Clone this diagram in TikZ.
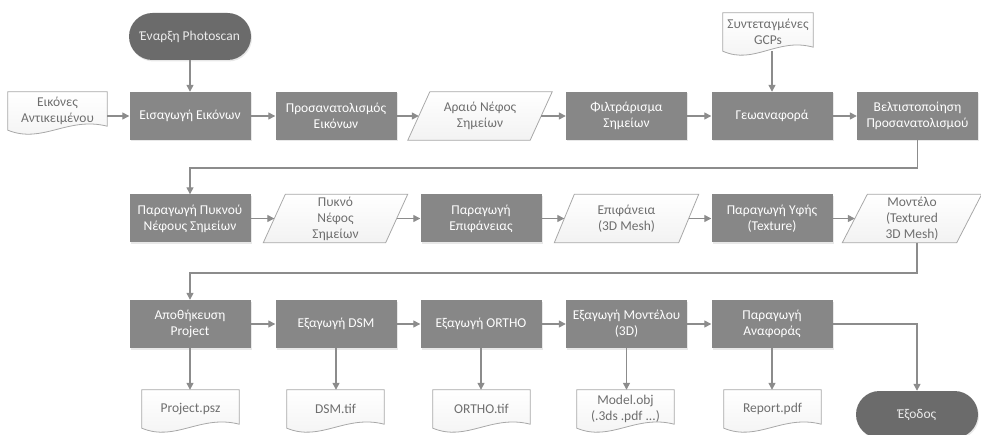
\documentclass[tikz,border=0pt]{standalone}
\usepackage{fontspec}
\setmainfont{Carlito}
\usetikzlibrary{arrows.meta,shadows,backgrounds,calc}
\definecolor{procfill}{HTML}{878787}
\definecolor{termfill}{HTML}{6B6B6B}
\definecolor{linecol}{HTML}{8C8C8C}
\definecolor{docborder}{HTML}{A8A8A8}
\definecolor{doctext}{HTML}{6E6E6E}
\begin{document}
\begin{tikzpicture}[x=1pt,y=-1pt,
  every node/.style={font=\fontsize{13.5}{16}\selectfont},
  procbox/.style={rectangle, fill=procfill, text=white, minimum width=121pt, minimum height=48pt,
    inner sep=0pt, align=center, drop shadow={shadow xshift=1pt,shadow yshift=-1.5pt,opacity=0.18}},
  termbox/.style={rectangle, rounded corners=23.5pt, fill=termfill, text=white!92!black, minimum width=122pt,
    minimum height=47pt, inner sep=0pt, align=center, drop shadow={shadow xshift=1pt,shadow yshift=-1.5pt,opacity=0.18}},
  databox/.style={rectangle, minimum width=122pt, minimum height=48pt, inner sep=0pt, align=center, text=doctext},
  docbox/.style={rectangle, minimum height=38pt, inner sep=0pt, align=center, text=doctext},
  conn/.style={draw=linecol, line width=1.3pt, -{Triangle[length=7pt,width=7pt]}},
  shapeline/.style={draw=docborder, line width=0.8pt, top color=white, bottom color=black!5}
]
\useasboundingbox (0,0) rectangle (981,435);
\clip (0,0) rectangle (981,435);

% terminals
\node[termbox] (start) at (190,36.5) {Έναρξη Photoscan};
\node[termbox] (exit) at (917,414.5) {Έξοδος};

% row 1
\node[docbox, minimum width=99pt] (img) at (57.5,111) {Εικόνες\\Αντικειμένου};
\node[procbox] (A1) at (190,116) {Εισαγωγή Εικόνων};
\node[procbox] (A2) at (336,116) {Προσανατολισμός\\Εικόνων};
\node[databox] (D1) at (480,116) {Αραιό Νέφος\\Σημείων};
\node[procbox] (A3) at (626.5,116) {Φιλτράρισμα\\Σημείων};
\node[procbox] (A4) at (772,116) {Γεωαναφορά};
\node[procbox] (A5) at (917.5,116) {Βελτιστοποίηση\\Προσανατολισμού};
\node[docbox, minimum width=90pt] (gcp) at (768,32) {Συντεταγμένες\\GCPs};

% row 2
\node[procbox] (B1) at (190,218.5) {Παραγωγή Πυκνού\\Νέφους Σημείων};
\node[databox] (D2) at (335.5,218.5) {Πυκνό\\Νέφος\\Σημείων};
\node[procbox] (B2) at (481,218.5) {Παραγωγή\\Επιφάνειας};
\node[databox, minimum width=124pt] (D3) at (626.5,218.5) {Επιφάνεια\\(3D Mesh)};
\node[procbox] (B3) at (772,218.5) {Παραγωγή Υφής\\(Texture)};
\node[databox, minimum width=114pt] (D4) at (912,218.5) {Μοντέλο\\(Textured\\3D Mesh)};

% row 3
\node[procbox] (C1) at (190,324) {Αποθήκευση\\Project};
\node[procbox] (C2) at (336,324) {Εξαγωγή DSM};
\node[procbox] (C3) at (481,324) {Εξαγωγή ORTHO};
\node[procbox] (C4) at (626.5,324) {Εξαγωγή Μοντέλου\\(3D)};
\node[procbox] (C5) at (772,324) {Παραγωγή\\Αναφοράς};

% output documents
\node[docbox, minimum width=97pt] (E1) at (190.5,409) {Project.psz};
\node[docbox, minimum width=97pt] (E2) at (335.5,409) {DSM.tif};
\node[docbox, minimum width=97pt] (E3) at (481.5,409) {ORTHO.tif};
\node[docbox, minimum width=97pt] (E4) at (625.5,409) {Model.obj\\(.3ds .pdf ...)};
\node[docbox, minimum width=97pt] (E5) at (772.5,409) {Report.pdf};

% shapes behind the data and document texts
\begin{scope}[on background layer]
  \foreach \n/\s in {D1/11, D2/11, D3/10, D4/12.5} {
    \path[shapeline] ([xshift=-\s pt]\n.south west) -- ([xshift=\s pt]\n.north west)
      -- ([xshift=\s pt]\n.north east) -- ([xshift=-\s pt]\n.south east) -- cycle;
  }
  \foreach \n/\w in {img/99, gcp/90, E1/97, E2/97, E3/97, E4/97, E5/97} {
    \path[shapeline] (\n.south west) -- (\n.north west) -- (\n.north east)
      -- ([yshift=4pt]\n.south east) .. controls +({-0.4*\w},-10) and +({0.35*\w},14) .. (\n.south west) -- cycle;
  }
\end{scope}

% connectors
\draw[conn] (start) -- (A1);
\draw[conn] (img.east |- A1) -- (A1);
\draw[conn] (A1) -- (A2);
\draw[conn] (A2) -- (D1);
\draw[conn] (D1) -- (A3);
\draw[conn] (A3) -- (A4);
\draw[conn] (A4) -- (A5);
\draw[conn] (A4.north |- gcp.south) -- (A4);
\coordinate (t1) at (917.5,168);
\draw[conn] (A5.south) -- (t1) -| (B1.north);
\draw[conn] (B1) -- (D2);
\draw[conn] (D2) -- (B2);
\draw[conn] (B2) -- (D3);
\draw[conn] (D3) -- (B3);
\draw[conn] (B3) -- (D4);
\coordinate (t2) at (917,273);
\draw[conn] ([xshift=5pt]D4.south) -- (t2) -| (C1.north);
\draw[conn] (C1) -- (C2);
\draw[conn] (C2) -- (C3);
\draw[conn] (C3) -- (C4);
\draw[conn] (C4) -- (C5);
\draw[conn] (C1) -- (E1.north -| C1);
\draw[conn] (C2) -- (E2.north -| C2);
\draw[conn] (C3) -- (E3.north -| C3);
\draw[conn] (C4) -- (E4.north -| C4);
\draw[conn] (C5) -- (E5.north -| C5);
\draw[conn] (C5.east) -| (exit.north);
\end{tikzpicture}
\end{document}
